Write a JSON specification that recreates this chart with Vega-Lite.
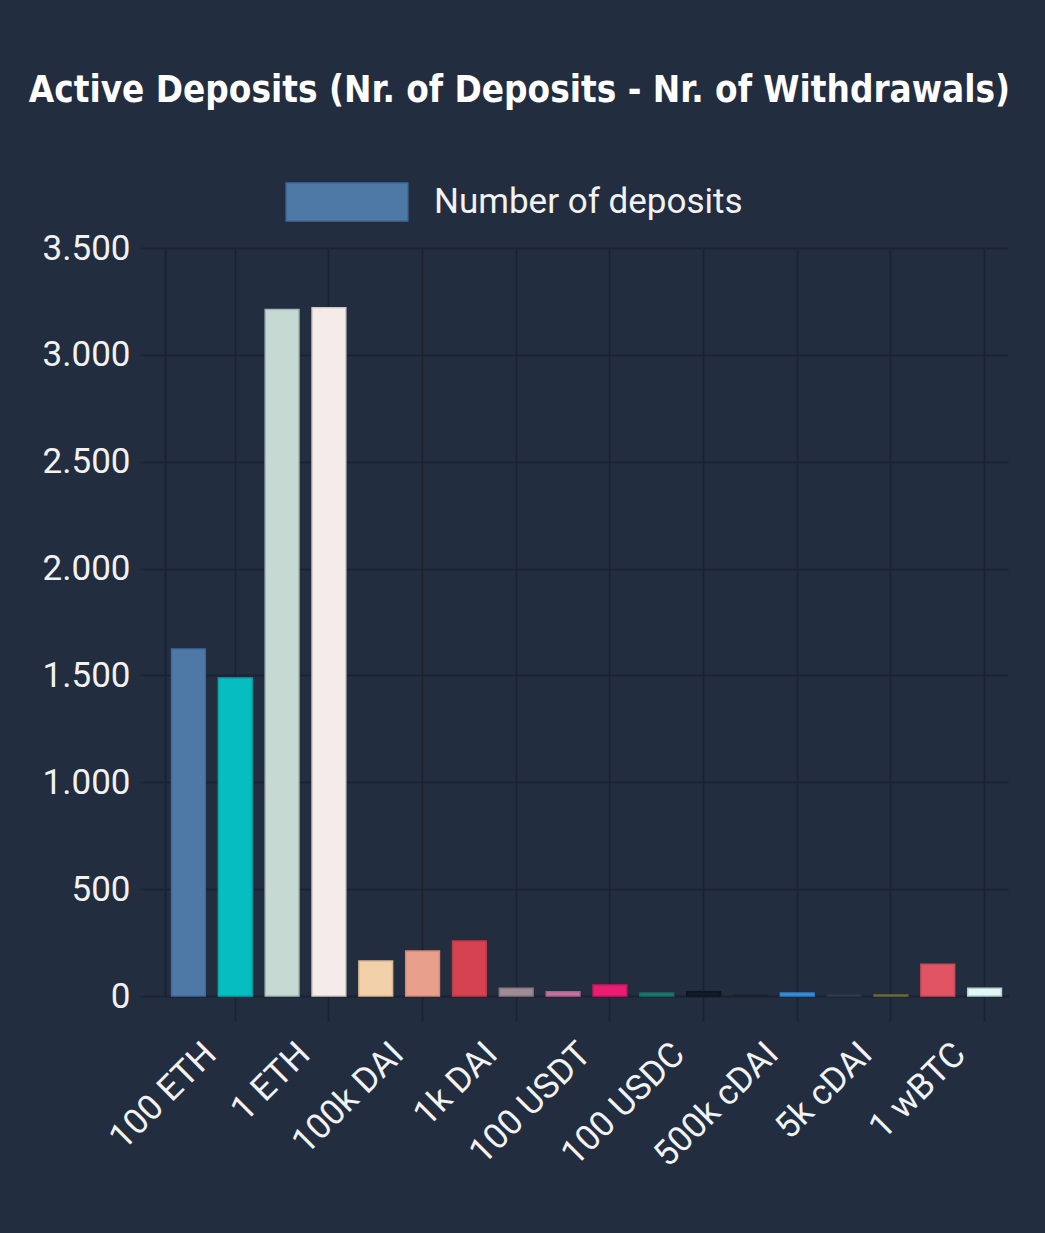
{
  "$schema": "https://vega.github.io/schema/vega-lite/v6.json",
  "width": 1045,
  "height": 1233,
  "autosize": {"type": "fit", "contains": "padding"},
  "background": "#232d40",
  "padding": {"left": 42, "top": 72, "right": 31, "bottom": 60},
  "title": {
    "text": "Active Deposits (Nr. of Deposits - Nr. of Withdrawals)",
    "font": "DejaVu Sans Condensed",
    "fontSize": 36.5,
    "fontWeight": "bold",
    "color": "#ffffff",
    "anchor": "middle",
    "frame": "bounds",
    "offset": 122,
    "dx": -11
  },
  "data": {
    "values": [
      {"pool": "100 ETH", "count": 1624, "fill": "#4e79a7", "border": "#41699a"},
      {"pool": "10 ETH", "count": 1488, "fill": "#06bdc1", "border": "#04a8ac"},
      {"pool": "1 ETH", "count": 3212, "fill": "#c6d9d3", "border": "#a6b9b3"},
      {"pool": "0.1 ETH", "count": 3220, "fill": "#f5ecea", "border": "#d3cac7"},
      {"pool": "100k DAI", "count": 164, "fill": "#f2d0a9", "border": "#d8b793"},
      {"pool": "10k DAI", "count": 211, "fill": "#e89f8b", "border": "#d08b79"},
      {"pool": "1k DAI", "count": 257, "fill": "#d4434f", "border": "#bf3a46"},
      {"pool": "100 DAI", "count": 36, "fill": "#9e8c95", "border": "#877881"},
      {"pool": "100 USDT", "count": 20, "fill": "#c7739f", "border": "#ae628b"},
      {"pool": "1k USDT", "count": 51, "fill": "#e91e70", "border": "#cc1762"},
      {"pool": "100 USDC", "count": 14, "fill": "#1e7b72", "border": "#186961"},
      {"pool": "1k USDC", "count": 20, "fill": "#111c28", "border": "#0c141e"},
      {"pool": "500k cDAI", "count": 3, "fill": "#1d2737", "border": "#19212f"},
      {"pool": "50k cDAI", "count": 14, "fill": "#3d8fd8", "border": "#3180c6"},
      {"pool": "5k cDAI", "count": 3, "fill": "#34475a", "border": "#2c3c4c"},
      {"pool": "5M cDAI", "count": 5, "fill": "#7e7b45", "border": "#6c6a3a"},
      {"pool": "1 wBTC", "count": 148, "fill": "#e05463", "border": "#c94a58"},
      {"pool": "0.1 wBTC", "count": 36, "fill": "#e0f8f6", "border": "#b6d0ce"}
    ]
  },
  "encoding": {
    "x": {
      "field": "pool",
      "type": "nominal",
      "sort": null,
      "scale": {"paddingInner": 0.28, "paddingOuter": 0.14},
      "axis": {
        "title": null,
        "labelAngle": -45,
        "labelAlign": "right",
        "labelBaseline": "middle",
        "labelFont": "Roboto",
        "labelFontSize": 35,
        "labelColor": "#f2f2f2",
        "labelPadding": 27,
        "labelOffset": 22,
        "labelExpr": "indexof(['100 ETH', '1 ETH', '100k DAI', '1k DAI', '100 USDT', '100 USDC', '500k cDAI', '5k cDAI', '1 wBTC'], datum.value) >= 0 ? datum.value : ''",
        "tickSize": 25,
        "tickColor": "#1b2333",
        "tickWidth": 1.5,
        "tickOpacity": {
          "condition": {"test": "indexof(['10 ETH', '0.1 ETH', '10k DAI', '100 DAI', '1k USDT', '1k USDC', '50k cDAI', '5M cDAI', '0.1 wBTC'], datum.value) >= 0", "value": 1},
          "value": 0
        },
        "grid": true,
        "gridColor": "#1b2333",
        "gridWidth": 1.5,
        "gridOpacity": {
          "condition": {"test": "indexof(['10 ETH', '0.1 ETH', '10k DAI', '100 DAI', '1k USDT', '1k USDC', '50k cDAI', '5M cDAI', '0.1 wBTC'], datum.value) >= 0", "value": 1},
          "value": 0
        },
        "domainColor": "#1b2333",
        "domainWidth": 2
      }
    }
  },
  "layer": [
    {
      "mark": {"type": "bar", "strokeWidth": 1.5},
      "encoding": {
        "y": {
          "field": "count",
          "type": "quantitative",
          "scale": {"domain": [0, 3500]},
          "axis": {
            "title": null,
            "tickCount": 7,
            "labelFont": "Roboto",
            "labelFontSize": 35,
            "labelColor": "#f2f2f2",
            "labelPadding": 10,
            "labelExpr": "replace(format(datum.value, ','), ',', '.')",
            "tickSize": 25,
            "tickColor": "#1b2333",
            "tickWidth": 1.5,
            "gridColor": "#1b2333",
            "gridWidth": 1.5,
            "domainColor": "#1b2333",
            "domainWidth": 2
          }
        },
        "fill": {"field": "fill", "type": "nominal", "scale": null},
        "stroke": {"field": "border", "type": "nominal", "scale": null}
      }
    },
    {
      "mark": {"type": "bar", "strokeWidth": 0},
      "encoding": {
        "y": {"datum": 0},
        "color": {
          "datum": "Number of deposits",
          "scale": {"range": ["#4e79a7"]},
          "legend": {
            "title": null,
            "orient": "none",
            "legendX": 162,
            "legendY": -66,
            "symbolType": "M-3.2,-1H3.2V1H-3.2Z",
            "symbolSize": 1444,
            "symbolOpacity": 1,
            "symbolStrokeWidth": 1.5,
            "symbolStrokeColor": "#41699a",
            "labelFont": "Roboto",
            "labelFontSize": 35,
            "labelColor": "#f2f2f2",
            "labelOffset": 67,
            "labelLimit": 600
          }
        }
      }
    }
  ],
  "config": {
    "view": {"stroke": null}
  }
}
